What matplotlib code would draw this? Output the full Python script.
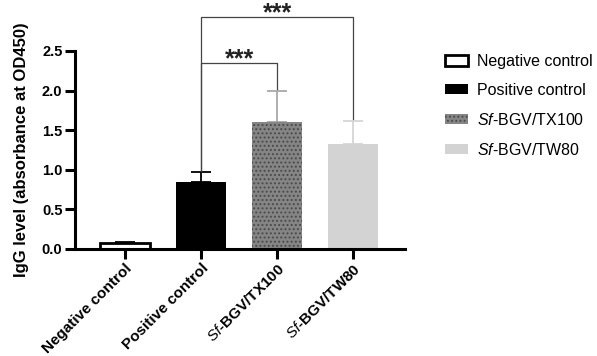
import numpy as np
import matplotlib.pyplot as plt
from matplotlib.patches import Patch

plt.rcParams['font.family'] = ['Liberation Sans', 'DejaVu Sans']
plt.rcParams['mathtext.fontset'] = 'custom'
plt.rcParams['mathtext.it'] = 'Liberation Sans:italic'
plt.rcParams['mathtext.rm'] = 'Liberation Sans'
plt.rcParams['hatch.linewidth'] = 0.9

groups = ["Negative control", "Positive control",
          r"$\mathit{Sf}$-BGV/TX100", r"$\mathit{Sf}$-BGV/TW80"]
means = [0.08, 0.85, 1.60, 1.33]
errs = [0.01, 0.12, 0.40, 0.29]
# significance brackets: (group a, group b, bracket height)
pairs = [(1, 2, 2.35), (1, 3, 2.93)]

fill = ["white", "black", "#858585", "#d3d3d3"]
errc = ["black", "black", "#a8a8a8", "#d6d6d6"]
hatch = [None, None, "....", None]

fig = plt.figure(figsize=(5.97, 3.56), dpi=100)
ax = fig.add_axes([0.1256, 0.3006, 0.5524, 0.5564])

x = np.arange(len(groups))
for i in range(len(groups)):
    ax.bar(x[i], means[i], width=0.66, color=fill[i],
           edgecolor="#4a4a4a" if hatch[i] else "black",
           linewidth=2 if i == 0 else 0, hatch=hatch[i], zorder=2)
    ax.errorbar(x[i], means[i], yerr=[[0], [errs[i]]], fmt="none",
                ecolor=errc[i], elinewidth=1.3, capsize=7.5, capthick=1.3, zorder=1)

tops = [m + e for m, e in zip(means, errs)]
for a, b, h in pairs:
    ax.plot([x[a], x[a], x[b], x[b]], [tops[a] + 0.02, h, h, tops[b] + 0.02],
            color="#444444", lw=0.9, clip_on=False, zorder=3)
    ax.text((x[a] + x[b]) / 2, h - 0.05, "***", ha="center", va="baseline",
            fontsize=18, fontweight="bold", color="#222222")

ax.set_xlim(-0.66, 3.68)
ax.set_ylim(0, 2.5)
ax.set_yticks(np.arange(0, 2.51, 0.5))
ax.set_yticklabels([f"{v:.1f}" for v in np.arange(0, 2.51, 0.5)],
                   fontsize=10.5, fontweight="bold")
ax.set_xticks(x)
ax.set_xticklabels(groups, rotation=45, ha="right", rotation_mode="anchor",
                   fontsize=11, fontweight="bold")
ax.set_ylabel("IgG level (absorbance at OD450)", fontsize=12, fontweight="bold",
              labelpad=9)
for s in ["top", "right"]:
    ax.spines[s].set_visible(False)
for s in ["left", "bottom"]:
    ax.spines[s].set_linewidth(2.2)
ax.tick_params(width=2.2, length=7, direction="out", pad=2)

handles = [Patch(facecolor=fill[i],
                 edgecolor="black" if i < 2 else ("#4a4a4a" if hatch[i] else fill[i]),
                 linewidth=2 if i == 0 else 0, hatch=hatch[i]) for i in range(len(groups))]
fig.legend(handles, groups, loc="upper left", bbox_to_anchor=(0.735, 0.866),
           frameon=False, fontsize=11.5, handlelength=1.4, handleheight=0.6,
           labelspacing=0.87, handletextpad=0.6, borderaxespad=0)

fig.savefig("out.png", dpi=100)
